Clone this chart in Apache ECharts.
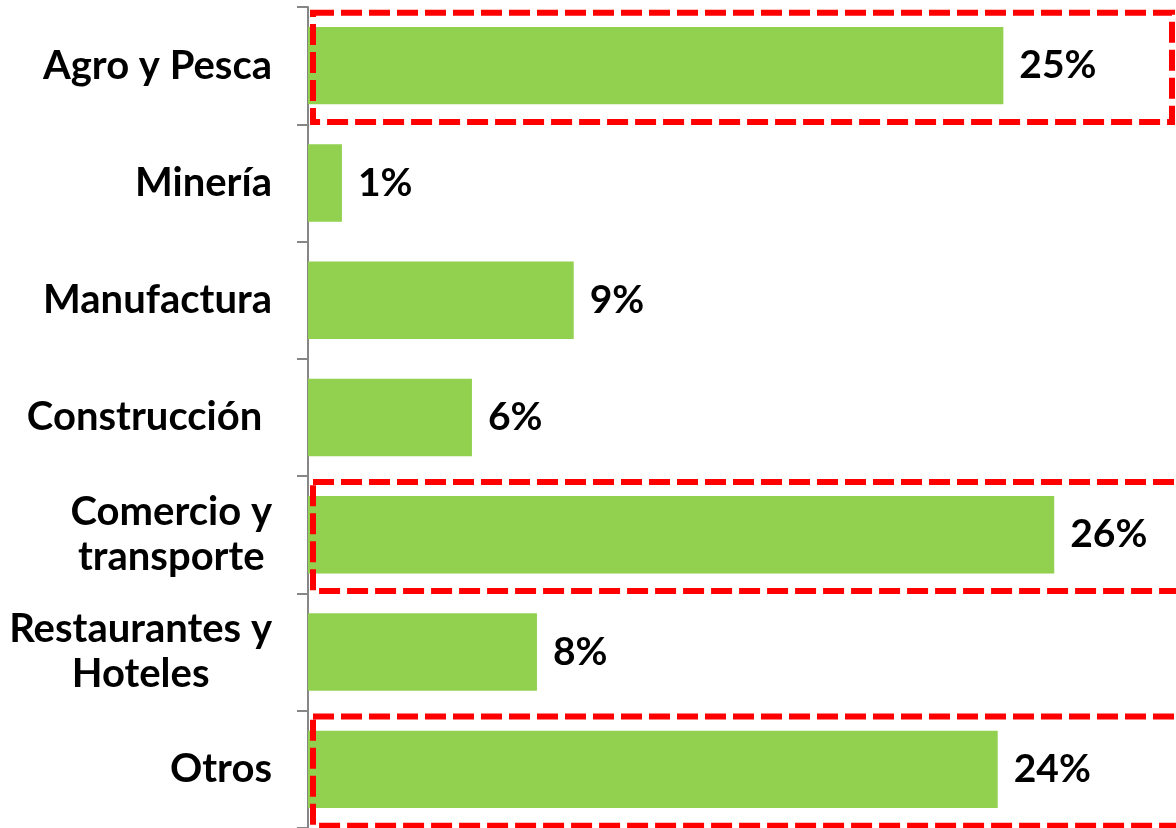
<!DOCTYPE html>
<html>
<head>
<meta charset="utf-8">
<script src="https://cdn.jsdelivr.net/npm/echarts@6/dist/echarts.min.js"></script>
<style>
  html, body { margin: 0; padding: 0; background: #fff; }
  #Map { width: 1176px; height: 828px; }
</style>
</head>
<body>
<div id="Map"></div>
<script>
// data
var sectores = ['Agro y Pesca', 'Minería', 'Manufactura', 'Construcción ', 'Comercio y\ntransporte', 'Restaurantes y\nHoteles', 'Otros'];
var participacion = [24.6, 1.2, 9.4, 5.8, 26.4, 8.1, 24.4];
// sectores con recuadro rojo
var destacados = ['Agro y Pesca', 'Comercio y\ntransporte', 'Otros'];

var fuente = 'Lato';

var myChart = echarts.init(document.getElementById('Map'));
var option = {
    animation: false,
    grid: {
        left: 308,
        top: 7,
        height: 825,
        right: 20
    },
    xAxis: {
        type: 'value',
        min: 0,
        max: 30,
        show: false
    },
    yAxis: {
        type: 'category',
        inverse: true,
        data: sectores,
        axisLine: { show: true, lineStyle: { color: '#868686', width: 2 } },
        axisTick: { show: true, interval: 0, length: 11, lineStyle: { color: '#868686', width: 2 } },
        axisLabel: {
            margin: 36,
            color: '#000',
            fontFamily: fuente,
            fontWeight: 'bold',
            fontSize: 40,
            lineHeight: 45,
            // lineas centradas dentro del bloque
            formatter: function (v) {
                return v.split('\n').map(function (l) { return '{c|' + l + '}'; }).join('\n');
            },
            rich: {
                c: {
                    align: 'center',
                    color: '#000',
                    fontFamily: fuente,
                    fontWeight: 'bold',
                    fontSize: 40,
                    lineHeight: 45
                }
            }
        }
    },
    series: [{
        type: 'bar',
        data: participacion,
        barCategoryGap: '34%',
        itemStyle: { color: '#92D050' },
        label: {
            show: true,
            position: 'right',
            distance: 16,
            color: '#000',
            fontFamily: fuente,
            fontWeight: 'bold',
            fontSize: 39,
            formatter: function (p) { return Math.round(p.value) + '%'; }
        }
    }]
};
myChart.setOption(option);

// recuadros rojos punteados
var x0 = myChart.convertToPixel({ xAxisIndex: 0 }, 0);
var banda = myChart.convertToPixel({ yAxisIndex: 0 }, sectores[1]) - myChart.convertToPixel({ yAxisIndex: 0 }, sectores[0]);
var cajas = destacados.map(function (s, i) {
    var yc = myChart.convertToPixel({ yAxisIndex: 0 }, s);
    var x1 = i === 0 ? 1172 : 1182;
    return {
        type: 'rect',
        shape: { x: x0 + 5, y: yc - banda * 0.45, width: x1 - x0 - 5, height: banda * 0.93 },
        style: { fill: null, stroke: '#FF0000', lineWidth: 6, lineDash: [21, 7] },
        z: 10
    };
});
myChart.setOption({ graphic: cajas });
</script>
</body>
</html>
